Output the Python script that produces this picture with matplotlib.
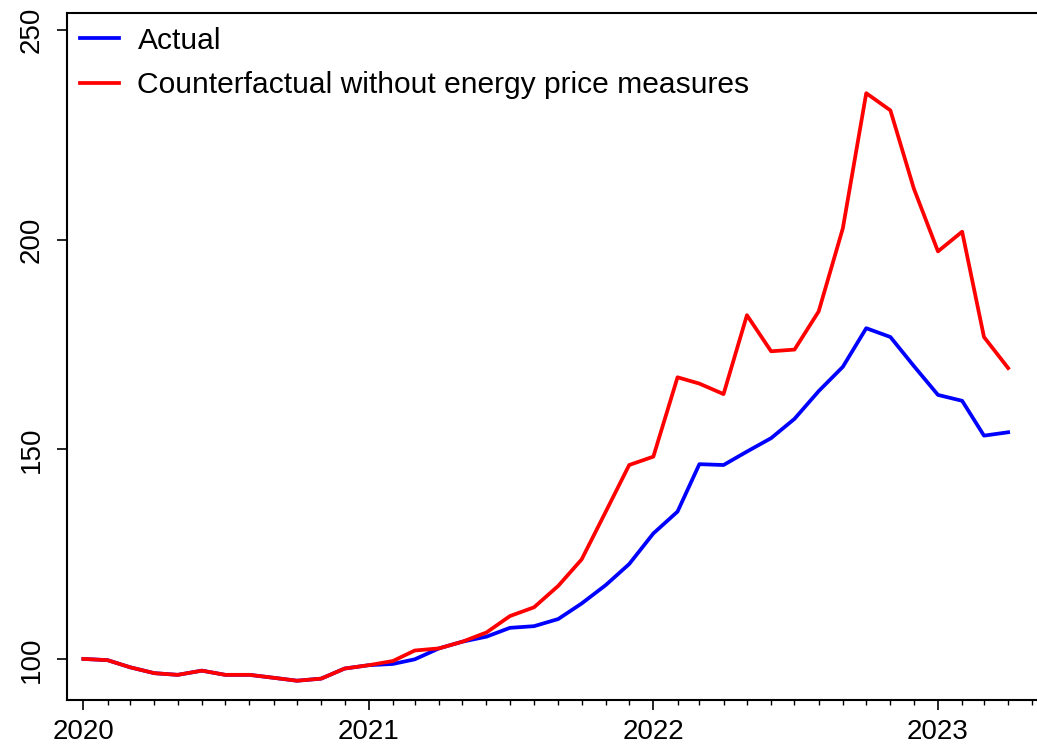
import pandas as pd
import matplotlib.pyplot as plt
import matplotlib.dates as mdates

plt.rcParams['font.family'] = ['Liberation Sans', 'DejaVu Sans']

# monthly index, Jan 2020 = 100
months = pd.date_range('2020-01-01', '2023-04-01', freq='MS')

actual = [100.1, 99.8, 98.1, 96.7, 96.3, 97.3, 96.3, 96.3, 95.6, 94.9, 95.4, 97.8,
          98.6, 98.9, 100.0, 102.6, 104.2, 105.4, 107.5, 107.9, 109.6, 113.3, 117.7, 122.7,
          130.0, 135.2, 146.5, 146.3, 149.5, 152.7, 157.3, 163.9, 169.7, 178.9, 176.8, 169.9,
          163.0, 161.6, 153.3, 154.1]

counterfactual = [100.1, 99.8, 98.1, 96.7, 96.3, 97.3, 96.3, 96.3, 95.6, 94.9, 95.4, 97.8,
                  98.6, 99.6, 102.1, 102.6, 104.2, 106.4, 110.3, 112.4, 117.5, 123.8, 135.2, 146.3,
                  148.3, 167.2, 165.7, 163.2, 182.0, 173.4, 173.8, 182.9, 202.7, 234.9, 230.8, 212.2,
                  197.2, 201.9, 176.8, 169.4]

fig = plt.figure(figsize=(10.37, 7.44), dpi=100)
ax = fig.add_axes([0.0646, 0.0591, 0.9354, 0.9234])

ax.plot(months, actual, color='#0000ff', lw=2.7, label='Actual')
ax.plot(months, counterfactual, color='#ff0000', lw=2.7,
        label='Counterfactual without energy price measures')

ax.set_xlim(pd.Timestamp('2019-12-11'), pd.Timestamp('2023-05-08'))
ax.set_ylim(90.3, 254)
ax.set_yticks([100, 150, 200, 250])
ax.xaxis.set_major_locator(mdates.YearLocator())
ax.xaxis.set_major_formatter(mdates.DateFormatter('%Y'))
ax.xaxis.set_minor_locator(mdates.MonthLocator())

for s in ['left', 'bottom', 'top']:
    ax.spines[s].set_linewidth(1.5)
ax.spines['right'].set_visible(False)

ax.tick_params(axis='both', which='major', length=7, width=1.2, labelsize=20)
ax.tick_params(axis='x', which='minor', length=3.5, width=1.0)
ax.tick_params(axis='x', which='major', pad=7)
ax.tick_params(axis='y', which='major', pad=9)
for lab in ax.get_yticklabels():
    lab.set_rotation(90)
    lab.set_va('center')

ax.legend(loc='upper left', bbox_to_anchor=(0.0, 1.0), frameon=False, fontsize=21.6,
          handlelength=1.27, handletextpad=0.63, labelspacing=0.55,
          borderaxespad=0.0, borderpad=0.45)

fig.savefig('out.png', dpi=100)
